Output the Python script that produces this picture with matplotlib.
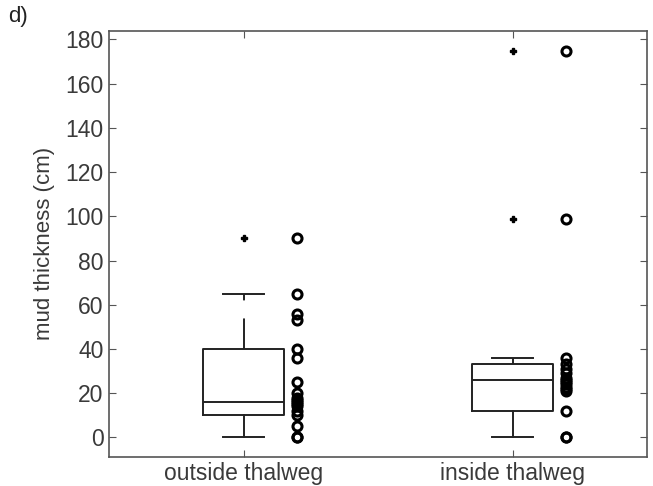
import numpy as np
from matplotlib import pyplot as plt

plt.rcParams['font.family'] = ['Liberation Sans', 'DejaVu Sans']
plt.rcParams['lines.scale_dashes'] = False

groups = ['outside thalweg', 'inside thalweg']

# individual measurements (cm)
outside = [90, 65, 56, 53, 40, 36, 25, 20, 18, 17, 16, 15, 14, 12, 10, 5, 0, 0]
inside = [175, 99, 36, 33, 31, 29, 27, 26, 25, 24, 23, 22, 21, 12, 0, 0]

# box statistics: q1, median, q3, whisker ends, outliers
q1 = [10, 12]
med = [16, 26]
q3 = [40, 33]
whislo = [0, 0]
whishi = [65, 36]
fliers = [[90], [175, 99]]

stats = [dict(q1=q1[i], med=med[i], q3=q3[i], whislo=whislo[i],
              whishi=whishi[i], fliers=fliers[i], label=groups[i])
         for i in range(len(groups))]

fig = plt.figure(figsize=(6.53, 4.86), dpi=100)
ax = fig.add_axes([0.167, 0.06, 0.824, 0.877])

line = dict(color='#222222', linewidth=1.4)
bp = ax.bxp(stats, positions=[1, 2], widths=0.3,
            boxprops=line, medianprops=line, capprops=line,
            whiskerprops=line,
            flierprops=dict(marker='P', markersize=5, markerfacecolor='black',
                            markeredgecolor='black', linestyle='none'))
# upper whiskers dashed, lower ones solid
for w in bp['whiskers'][1::2]:
    w.set_linestyle((0, (22, 13)))

# raw data next to each box
ax.plot(np.full(len(outside), 1.2), outside, 'o', markersize=6.5,
        markerfacecolor='none', markeredgecolor='black', markeredgewidth=2.2)
ax.plot(np.full(len(inside), 2.2), inside, 'o', markersize=6.5,
        markerfacecolor='none', markeredgecolor='black', markeredgewidth=2.2)

ax.set_xlim(0.5, 2.5)
ax.set_ylim(-8.8, 184)
ax.set_yticks(range(0, 181, 20))
ax.set_xticks([1, 2])
ax.set_xticklabels(groups)
ax.set_ylabel('mud thickness (cm)', fontsize=16, color='#3a3a3a')
ax.yaxis.set_label_coords(-0.1, 0.5)

ax.tick_params(direction='in', top=True, right=True, length=5,
               labelsize=16.5, colors='#555555', labelcolor='#3a3a3a', pad=4)
for s in ax.spines.values():
    s.set_color('#555555')
    s.set_linewidth(1.2)

fig.text(0.012, 0.955, 'd)', fontsize=16, color='#222222')

fig.savefig('out.png', dpi=100)
